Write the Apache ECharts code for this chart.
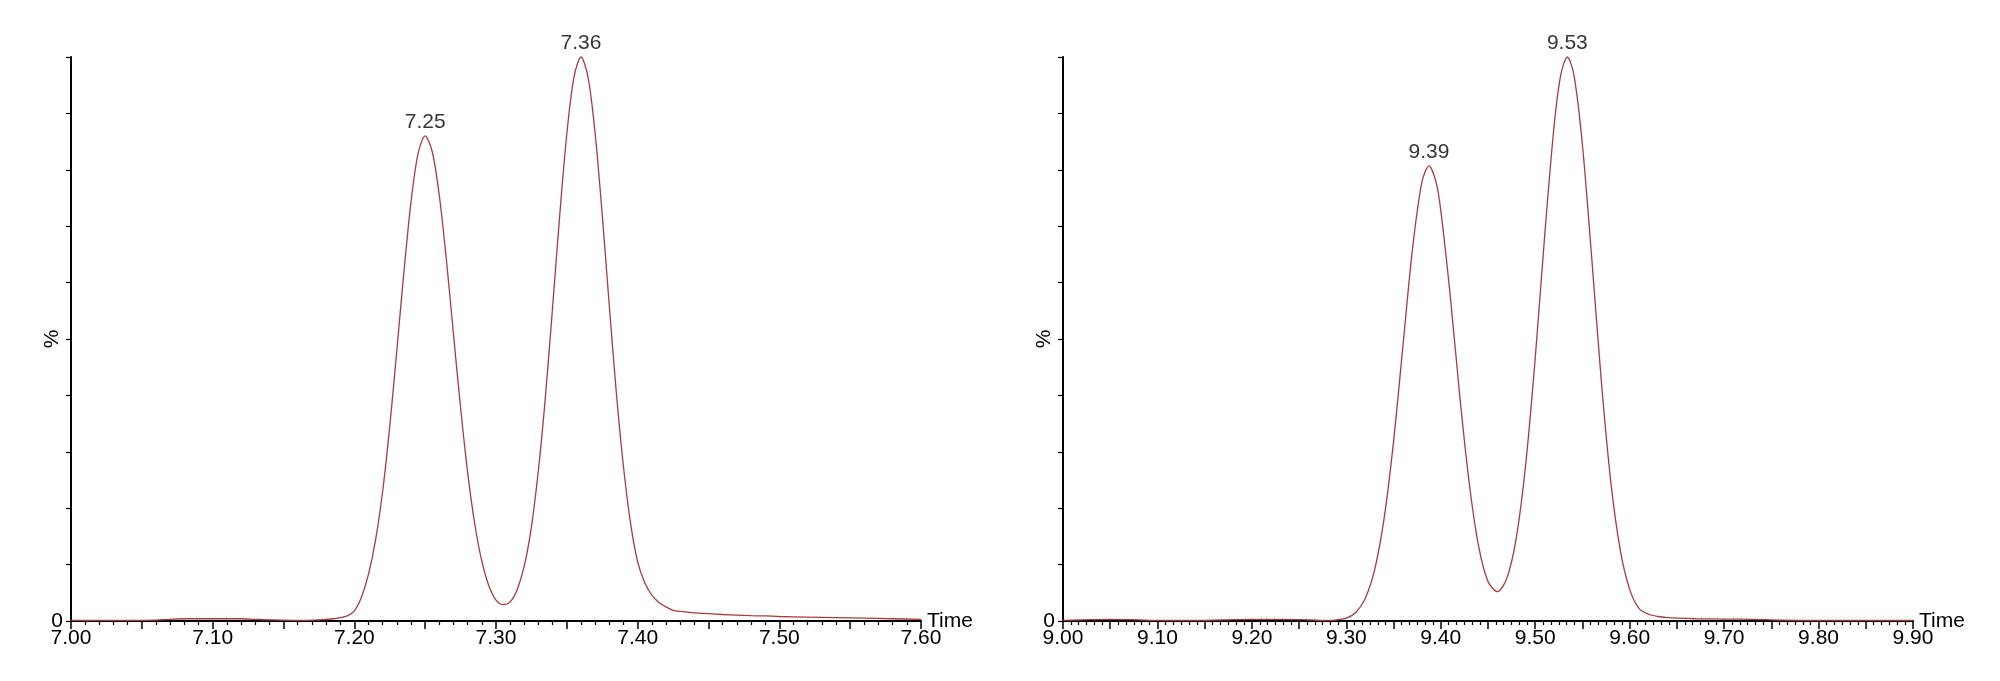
<!DOCTYPE html>
<html>
<head>
<meta charset="utf-8">
<script src="https://cdn.jsdelivr.net/npm/echarts@6/dist/echarts.min.js"></script>
<style>
html,body{margin:0;padding:0;background:#fff;}
#c{width:2000px;height:681px;}
</style>
</head>
<body>
<div id="c"></div>
<script>
// ---- Left chromatogram (7.00 - 7.60 min) ----
const leftTimes = [7.000, 7.020, 7.040, 7.060, 7.070, 7.080, 7.100, 7.120, 7.130, 7.140,
  7.160, 7.175, 7.185,
  7.190, 7.195, 7.200, 7.205, 7.210, 7.215, 7.220, 7.225, 7.230, 7.235,
  7.240, 7.245, 7.250, 7.255, 7.260, 7.265, 7.270, 7.275, 7.280, 7.285,
  7.290, 7.295, 7.300, 7.305, 7.310, 7.315, 7.320, 7.325, 7.330, 7.335,
  7.340, 7.345, 7.350, 7.355, 7.360, 7.365, 7.370, 7.375, 7.380, 7.385,
  7.390, 7.395, 7.400, 7.405, 7.410, 7.415, 7.420, 7.425, 7.430,
  7.440, 7.450, 7.460, 7.470, 7.480, 7.490, 7.500, 7.520, 7.540, 7.560, 7.580, 7.600];
const leftIntensity = [0.1, 0.1, 0.1, 0.15, 0.3, 0.4, 0.4, 0.4, 0.3, 0.2,
  0.1, 0.2, 0.4,
  0.6, 0.9, 1.8, 4.2, 8.3, 14.4, 23.0, 34.5, 48.0, 61.9,
  74.3, 82.9, 86.0, 83.2, 75.4, 64.0, 50.8, 37.8, 26.3, 17.2,
  10.6, 6.2, 3.7, 2.9, 3.4, 5.6, 9.8, 16.7, 26.9, 40.1,
  55.8, 72.0, 86.4, 96.4, 100, 96.4, 86.4, 72.0, 55.8, 40.3,
  27.3, 17.3, 10.5, 6.8, 4.6, 3.3, 2.5, 1.9, 1.7,
  1.45, 1.3, 1.15, 1.05, 0.95, 0.9, 0.8, 0.7, 0.6, 0.5, 0.4, 0.3];
const leftPeakTimes = [7.25, 7.36];
const leftPeakHeights = [86, 100];
const leftPeakLabels = ['7.25', '7.36'];

// ---- Right chromatogram (9.00 - 9.90 min) ----
const rightTimes = [9.000, 9.020, 9.050, 9.080, 9.100, 9.130, 9.170, 9.200, 9.230, 9.260,
  9.280, 9.290, 9.300, 9.310, 9.320, 9.330, 9.340, 9.350, 9.360, 9.370,
  9.380, 9.3875, 9.395, 9.400, 9.410, 9.420, 9.430, 9.440, 9.450, 9.460,
  9.470, 9.480, 9.490, 9.500, 9.510, 9.520, 9.527, 9.534, 9.541, 9.550,
  9.560, 9.570, 9.580, 9.590, 9.600, 9.610, 9.620, 9.630, 9.640, 9.650,
  9.670, 9.700, 9.730, 9.760, 9.800, 9.850, 9.900];
const rightIntensity = [0.1, 0.2, 0.3, 0.2, 0.1, 0.1, 0.2, 0.3, 0.3, 0.2,
  0.1, 0.2, 0.5, 1.5, 4.0, 9.1, 18.2, 31.8, 48.9, 65.9,
  77.8, 80.7, 77.8, 72.8, 57.7, 40.1, 24.6, 13.3, 7.0, 5.2,
  7.6, 14.8, 27.9, 46.6, 68.3, 87.8, 96.8, 100, 96.8, 84.4,
  64.0, 42.5, 24.7, 12.6, 5.6, 2.2, 1.2, 0.8, 0.6, 0.5,
  0.4, 0.35, 0.3, 0.15, 0.1, 0.1, 0.1];
const rightPeakTimes = [9.3875, 9.534];
const rightPeakHeights = [80.7, 100];
const rightPeakLabels = ['9.39', '9.53'];

const xRanges = [[7.0, 7.6], [9.0, 9.9]];
const minorSplits = [5, 6];
const yTickLabels = ['0'];

const FONT = 'Liberation Sans';
const FS = 21;
const LINE_COLOR = '#a63c3e';

function zip(a, b) { return a.map((v, i) => [v, b[i]]); }

function xAxisFor(i) {
  return {
    type: 'value', gridIndex: i, min: xRanges[i][0], max: xRanges[i][1], interval: 0.05,
    name: 'Time', nameLocation: 'end', nameGap: 6, nameMoveOverlap: false,
    nameTextStyle: { fontFamily: FONT, fontSize: FS, color: '#000' },
    axisLine: { show: true, onZero: false, lineStyle: { color: '#000', width: 2 } },
    axisTick: { show: true, inside: false, length: 8, lineStyle: { color: '#000', width: 1.5 } },
    minorTick: { show: true, splitNumber: minorSplits[i], length: 4, lineStyle: { color: '#000', width: 1.2 } },
    splitLine: { show: false }, minorSplitLine: { show: false },
    axisLabel: {
      fontFamily: FONT, fontSize: FS, color: '#000', margin: 7, hideOverlap: false,
      showMinLabel: true, showMaxLabel: true,
      formatter: function (v) { const k = Math.round(v * 100); return k % 10 === 0 ? v.toFixed(2) : ''; }
    }
  };
}
function yAxisFor(i) {
  return {
    type: 'value', gridIndex: i, min: 0, max: 100, interval: 10,
    name: '%', nameLocation: 'middle', nameRotate: 90, nameGap: 8, nameMoveOverlap: false,
    nameTextStyle: { fontFamily: FONT, fontSize: FS, color: '#000' },
    axisLine: { show: true, lineStyle: { color: '#000', width: 2 } },
    axisTick: { show: true, inside: false, length: 5, lineStyle: { color: '#000', width: 1.2 } },
    splitLine: { show: false },
    axisLabel: {
      fontFamily: FONT, fontSize: FS, color: '#000', margin: 8,
      formatter: function (v) { return v === 0 ? yTickLabels[0] : ''; }
    }
  };
}
function lineSeries(i, t, y) {
  return {
    type: 'line', xAxisIndex: i, yAxisIndex: i, data: zip(t, y),
    showSymbol: false, symbol: 'none', smooth: 0.3, clip: false,
    lineStyle: { color: LINE_COLOR, width: 1.3 }, silent: true, animation: false
  };
}
function peakSeries(i, t, h, labels) {
  return {
    type: 'scatter', xAxisIndex: i, yAxisIndex: i,
    data: t.map((v, k) => ({ value: [v, h[k]], name: labels[k] })),
    symbolSize: 0, silent: true, animation: false,
    label: {
      show: true, position: 'top', distance: 3, fontFamily: FONT, fontSize: FS, color: '#000',
      formatter: function (p) { return p.name; }
    }
  };
}

const chart = echarts.init(document.getElementById('c'), null, { renderer: 'canvas' });
chart.setOption({
  backgroundColor: '#fff',
  animation: false,
  grid: [
    { left: 71, top: 57, width: 850, height: 564 },
    { left: 1063, top: 57, width: 850, height: 564 }
  ],
  xAxis: [xAxisFor(0), xAxisFor(1)],
  yAxis: [yAxisFor(0), yAxisFor(1)],
  series: [
    lineSeries(0, leftTimes, leftIntensity),
    lineSeries(1, rightTimes, rightIntensity),
    peakSeries(0, leftPeakTimes, leftPeakHeights, leftPeakLabels),
    peakSeries(1, rightPeakTimes, rightPeakHeights, rightPeakLabels)
  ]
});
</script>
</body>
</html>
